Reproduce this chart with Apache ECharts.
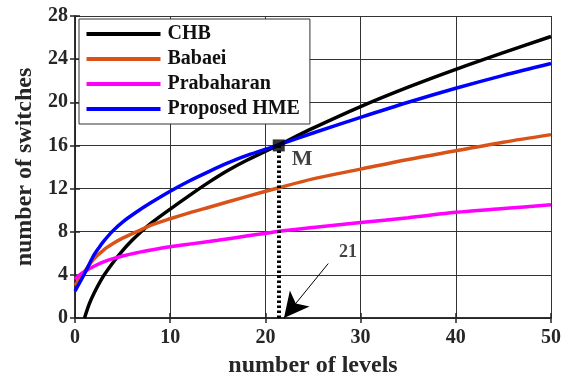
<!DOCTYPE html>
<html>
<head>
<meta charset="utf-8">
<script src="https://cdn.jsdelivr.net/npm/echarts@6/dist/echarts.min.js"></script>
<style>html,body{margin:0;padding:0;background:#fff}#c{width:570px;height:383px}</style>
</head>
<body>
<div id="c"></div>
<script>
// [number of levels, number of switches]
const CHB = [[1,0],[1.5,1.3],[2,2.3],[3,3.9],[4,5.15],[5,6.25],[6,7.2],[7,8.05],[8,8.8],[10,10.1],[12,11.35],[14,12.55],[16,13.65],[18,14.6],[21.4,16.05],[25,17.6],[30,19.6],[35,21.4],[40,23.05],[45,24.6],[50,26.1]];
const BABAEI = [[0,3.0],[1,4.3],[1.9,5.4],[3,6.3],[4,6.9],[5,7.4],[6.5,8.0],[8,8.6],[10,9.2],[12,9.75],[14,10.25],[18,11.25],[21.5,12.1],[25,12.9],[30,13.8],[35,14.7],[40,15.5],[45,16.3],[50,17.0]];
const PRABAHARAN = [[0,3.6],[0.5,4.0],[1,4.3],[2,4.8],[3,5.2],[4,5.5],[5,5.75],[6.5,6.05],[8,6.3],[10,6.6],[12,6.85],[15,7.2],[18,7.6],[21.5,8.05],[25,8.4],[30,8.85],[35,9.3],[40,9.8],[45,10.15],[50,10.5]];
const HME = [[0,2.5],[1,4.1],[1.9,5.7],[2.5,6.5],[3,7.1],[4,8.1],[5,8.9],[6.5,9.85],[8,10.7],[10,11.75],[12,12.7],[14,13.55],[16,14.35],[18,15.05],[21.4,16.05],[25,17.15],[30,18.6],[35,20.0],[40,21.3],[45,22.5],[50,23.6]];
const POINT_M = [21.4, 16];
const ARROW_FROM = [26.6, 5.05];
const ARROW_TO = [21.95, 0.0];
const LABEL_21 = [28.67, 6.13];
const X_TICKS = {min:0, max:50, interval:10};
const Y_TICKS = {min:0, max:28, interval:4};

const FONT = 'Liberation Serif';
const TXT = '#262626';
const chart = echarts.init(document.getElementById('c'));

function curve(name, data, color) {
  return {name, type:'line', data, showSymbol:false, symbol:'none', smooth:0.3,
    lineStyle:{color, width:3.5}, itemStyle:{color}, z:3};
}

chart.setOption({
  animation:false,
  backgroundColor:'#fff',
  grid:{left:75, right:19, top:16, bottom:60},
  legend:{
    orient:'vertical', left:79, top:19, padding:[5,10,5,7.5],
    backgroundColor:'#fff', borderColor:'#333', borderWidth:1,
    icon:'rect', itemWidth:74, itemHeight:4, itemGap:5,
    data:['CHB','Babaei','Prabaharan','Proposed HME'],
    textStyle:{fontFamily:FONT, fontWeight:'bold', fontSize:20, lineHeight:20, color:'#111', padding:[0,0,0,2]}
  },
  xAxis:[{
    type:'value', min:X_TICKS.min, max:X_TICKS.max, interval:X_TICKS.interval,
    name:'number of levels', nameLocation:'middle', nameGap:36,
    nameTextStyle:{fontFamily:FONT, fontWeight:'bold', fontSize:24, color:TXT},
    axisLine:{lineStyle:{color:'#262626', width:1.5}},
    axisTick:{inside:true, length:5, lineStyle:{color:'#262626', width:1.5}},
    axisLabel:{fontFamily:FONT, fontWeight:'bold', fontSize:20, color:TXT, margin:10},
    splitLine:{show:true, lineStyle:{color:'#333', width:1}}
  },{
    type:'value', position:'top', min:X_TICKS.min, max:X_TICKS.max, interval:X_TICKS.interval,
    axisLine:{show:true, lineStyle:{color:'#262626', width:1.5}},
    axisTick:{show:true, inside:true, length:5, lineStyle:{color:'#262626', width:1.5}},
    axisLabel:{show:false}, splitLine:{show:false}
  }],
  yAxis:[{
    type:'value', min:Y_TICKS.min, max:Y_TICKS.max, interval:Y_TICKS.interval,
    name:'number of switches', nameLocation:'middle', nameGap:33,
    nameTextStyle:{fontFamily:FONT, fontWeight:'bold', fontSize:24, color:TXT},
    axisLine:{show:true, lineStyle:{color:'#262626', width:1.5}},
    axisTick:{show:true, inside:true, length:5, lineStyle:{color:'#262626', width:1.5}},
    axisLabel:{fontFamily:FONT, fontWeight:'bold', fontSize:20, color:TXT, margin:7},
    splitLine:{show:true, lineStyle:{color:'#333', width:1}}
  },{
    type:'value', position:'right', min:Y_TICKS.min, max:Y_TICKS.max, interval:Y_TICKS.interval,
    axisLine:{show:true, lineStyle:{color:'#262626', width:1.5}},
    axisTick:{show:true, inside:true, length:5, lineStyle:{color:'#262626', width:1.5}},
    axisLabel:{show:false}, splitLine:{show:false}
  }],
  series:[
    curve('CHB', CHB, '#000000'),
    curve('Babaei', BABAEI, '#D95319'),
    curve('Prabaharan', PRABAHARAN, '#FF00FF'),
    curve('Proposed HME', HME, '#0000FF'),
    {
      name:'M', type:'scatter', data:[POINT_M], symbol:'rect', symbolSize:12,
      itemStyle:{color:'#000'}, z:5,
      label:{show:true, formatter:'M', position:[19,9], fontFamily:FONT, fontWeight:'bold', fontSize:22, color:'#111'},
      markLine:{
        silent:true, symbol:['none','none'], animation:false,
        lineStyle:{color:'#000', width:4, type:[2.5,2.5]},
        label:{show:false},
        data:[[{coord:POINT_M}, {coord:[POINT_M[0], 0]}]]
      }
    },
    {
      name:'annot', type:'scatter', data:[LABEL_21], symbolSize:0, z:5,
      label:{show:true, formatter:'21', position:'inside', fontFamily:FONT, fontWeight:'bold', fontSize:18, color:'#111'},
      markLine:{
        silent:true, symbol:['none','arrow'], symbolSize:[19,25], animation:false,
        lineStyle:{color:'#000', width:1, type:'solid'},
        itemStyle:{color:'#000'},
        label:{show:false},
        data:[[{coord:ARROW_FROM}, {coord:ARROW_TO}]]
      }
    }
  ]
});
</script>
</body>
</html>
